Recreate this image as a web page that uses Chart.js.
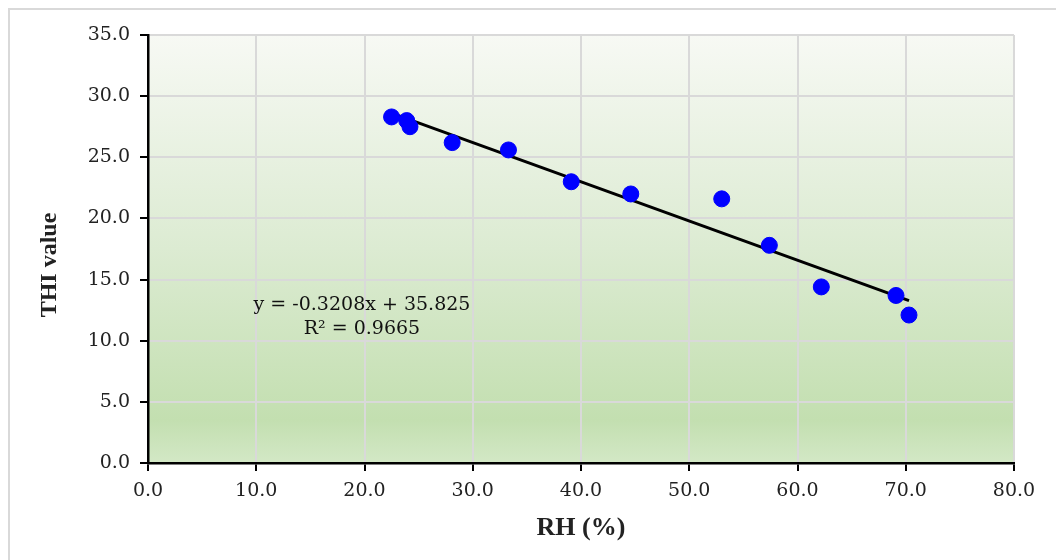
<!DOCTYPE html>
<html>
<head>
<meta charset="utf-8">
<script src="https://cdn.jsdelivr.net/npm/chart.js@4"></script>
<style>
  body { margin: 0; background: #fff; }
  #wrap { width: 1056px; height: 560px; position: relative; }
</style>
</head>
<body>
<div id="wrap"><canvas id="thiChart" width="1056" height="560"></canvas></div>
<script>
// RH (%) vs THI value
const rhValues = [22.5, 23.9, 24.2, 28.1, 33.3, 39.1, 44.6, 53.0, 57.4, 62.2, 69.1, 70.3];
const thiValues = [28.3, 28.0, 27.5, 26.2, 25.6, 23.0, 22.0, 21.6, 17.8, 14.4, 13.7, 12.1];
// linear trendline as printed on the chart
const trendSlope = -0.3208;
const trendIntercept = 35.825;
const trendLabel = ["y = -0.3208x + 35.825", "R\u00b2 = 0.9665"];
const xTitle = "RH (%)";
const yTitle = "THI value";

const points = rhValues.map((x, i) => ({ x, y: thiValues[i] }));
const xMin = Math.min(...rhValues), xMax = Math.max(...rhValues);
const trendPoints = [xMin, xMax].map(x => ({ x, y: trendSlope * x + trendIntercept }));

const serif = "'Liberation Serif', 'Times New Roman', serif";
const wideSerif = "'DejaVu Serif', serif";

const framePlugin = {
  id: "frame",
  beforeDraw(chart) {
    const { ctx, chartArea: a } = chart;
    ctx.save();
    // outer frame (left + top visible)
    ctx.strokeStyle = "#d9d9d9";
    ctx.lineWidth = 2;
    ctx.beginPath();
    ctx.moveTo(9, 560);
    ctx.lineTo(9, 9);
    ctx.lineTo(1056, 9);
    ctx.stroke();
    // plot area gradient
    const g = ctx.createLinearGradient(0, a.top, 0, a.bottom);
    g.addColorStop(0, "#f7f9f4");
    g.addColorStop(0.5, "#dcebd2");
    g.addColorStop(0.9, "#c3dfb0");
    g.addColorStop(1, "#d3e8c6");
    ctx.fillStyle = g;
    ctx.fillRect(a.left, a.top, a.right - a.left, a.bottom - a.top);
    ctx.restore();
  },
  afterDatasetsDraw(chart) {
    const { ctx } = chart;
    ctx.save();
    ctx.fillStyle = "#111";
    ctx.font = "19px " + wideSerif;
    ctx.textAlign = "center";
    ctx.textBaseline = "middle";
    ctx.fillText(trendLabel[0], 362, 305);
    ctx.fillText(trendLabel[1], 362, 329);
    // y axis title
    ctx.fillStyle = "#222";
    ctx.font = "bold 24px " + serif;
    ctx.translate(50, 265);
    ctx.rotate(-Math.PI / 2);
    ctx.fillText(yTitle, 0, 0);
    ctx.restore();
  }
};

new Chart(document.getElementById("thiChart"), {
  type: "scatter",
  data: {
    datasets: [
      {
        label: "THI",
        data: points,
        backgroundColor: "#0000ff",
        borderColor: "#0000ff",
        pointRadius: 8,
        pointHoverRadius: 8
      },
      {
        label: "Linear (THI)",
        type: "line",
        data: trendPoints,
        borderColor: "#000",
        borderWidth: 3,
        pointRadius: 0,
        fill: false
      }
    ]
  },
  options: {
    responsive: false,
    animation: false,
    layout: { padding: { left: 36, right: 42, top: 35, bottom: 12 } },
    plugins: { legend: { display: false }, tooltip: { enabled: false } },
    scales: {
      x: {
        type: "linear",
        min: 0,
        max: 80,
        afterFit(scale) { scale.height = 85; },
        ticks: {
          stepSize: 10,
          color: "#222",
          font: { family: wideSerif, size: 19 },
          padding: 9,
          callback: v => v.toFixed(1)
        },
        grid: { color: "#d9d9d9", lineWidth: 2, tickColor: "#000", tickLength: 8 },
        border: { color: "#000", width: 2.5 },
        title: {
          display: true,
          text: xTitle,
          color: "#222",
          font: { family: serif, size: 26, weight: "bold" },
          padding: { top: 4 }
        }
      },
      y: {
        type: "linear",
        min: 0,
        max: 35,
        afterFit(scale) { scale.width = 112; },
        ticks: {
          stepSize: 5,
          color: "#222",
          font: { family: wideSerif, size: 19 },
          padding: 10,
          callback: v => v.toFixed(1)
        },
        grid: { color: "#d9d9d9", lineWidth: 2, tickColor: "#000", tickLength: 8 },
        border: { color: "#000", width: 2.5 },
        title: { display: false, text: yTitle }
      }
    }
  },
  plugins: [framePlugin]
});
</script>
</body>
</html>
